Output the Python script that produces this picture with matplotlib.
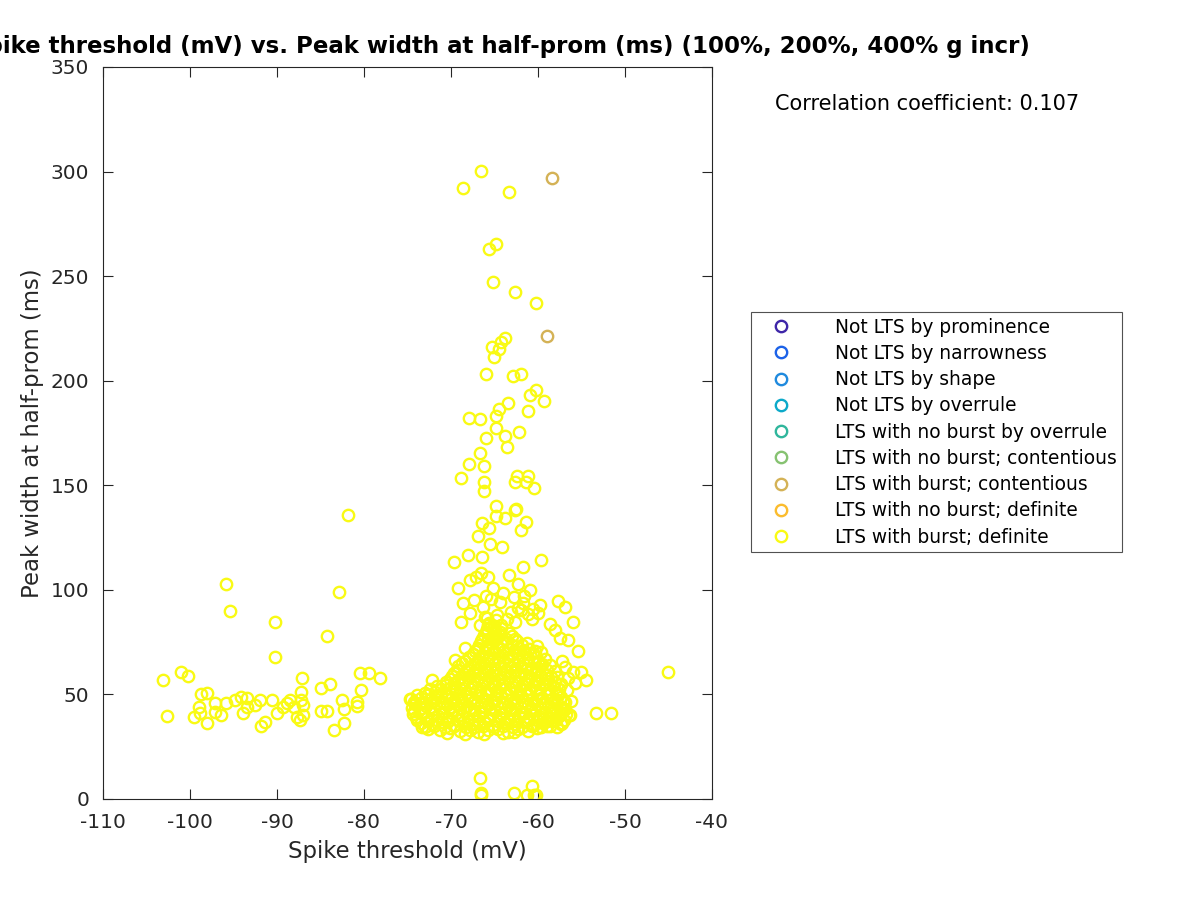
import matplotlib
matplotlib.use("Agg")
import matplotlib.pyplot as plt
from matplotlib.lines import Line2D

plt.rcParams['font.family'] = ['DejaVu Sans']
plt.rcParams['axes.unicode_minus'] = False

# classes in legend order, with parula-like colours
class_labels = ['Not LTS by prominence', 'Not LTS by narrowness', 'Not LTS by shape',
                'Not LTS by overrule', 'LTS with no burst by overrule',
                'LTS with no burst; contentious', 'LTS with burst; contentious',
                'LTS with no burst; definite', 'LTS with burst; definite']
class_colors = ['#3e26a8', '#1c62e8', '#1f8ade', '#0ca9c9', '#2fb69c',
                '#86c271', '#d4b256', '#fbbc2e', '#f9fa14']

corr_coef = 0.107

# LTS with burst; contentious
x_cont = [-58.4, -59.0]
y_cont = [297.0, 221.4]

# LTS with burst; definite -- tall scattered part above the main cluster
x_high = [-66.5, -68.6, -63.3, -64.8, -65.6, -65.2, -62.6, -60.2, -63.8, -64.3,
          -65.3, -64.5, -65.0, -66.0, -62.9, -61.9, -60.2, -60.9, -59.3, -63.5,
          -64.5, -64.8, -61.2, -67.9, -66.7, -64.8, -63.8, -62.2, -66.0, -63.6,
          -66.7, -67.9, -66.2, -68.9, -66.2, -66.2, -62.4, -61.2, -62.6, -61.4,
          -60.5, -64.8, -62.5, -64.8, -63.8, -62.6, -66.4, -65.6, -61.4, -61.9,
          -66.9, -65.5, -64.1, -69.6, -68.1, -66.4, -61.7, -59.7]
y_high = [300.5, 292.0, 290.0, 265.3, 263.0, 247.2, 242.3, 237.3, 220.6, 218.7,
          216.0, 215.2, 211.2, 203.4, 202.4, 203.2, 195.6, 193.4, 190.4, 189.5,
          186.6, 183.2, 185.6, 182.4, 181.5, 177.4, 173.7, 175.7, 172.4, 168.5,
          165.6, 160.4, 159.4, 153.7, 151.7, 147.3, 154.5, 154.5, 151.4, 151.4,
          148.5, 139.9, 138.9, 135.4, 134.4, 138.2, 131.8, 129.7, 132.5, 128.6,
          125.8, 121.7, 120.6, 113.5, 116.5, 115.8, 110.7, 114.5]

# loose points between 55 and 110 ms
x_mid = [-69.2, -67.8, -67.1, -66.5, -65.7, -65.2, -63.3, -62.3, -60.9, -68.6,
         -66.3, -64.4, -61.7, -59.8, -57.7, -56.9, -68.9, -66.7, -62.6, -60.7,
         -58.6, -58.1, -56.0, -57.5, -56.6, -55.4, -68.4, -69.5, -72.2, -54.5,
         -55.0, -56.0, -56.9, -66.0, -65.4, -64.0, -62.8, -61.9, -61.2, -62.3,
         -63.1, -60.6, -61.6, -67.4, -67.8, -64.7, -63.6, -65.9, -60.0]
y_mid = [100.7, 104.7, 106.3, 107.9, 106.3, 100.7, 107.1, 102.8, 99.9, 93.6,
         91.9, 94.3, 93.6, 92.8, 94.8, 91.6, 84.7, 83.1, 84.7, 86.3,
         83.9, 80.8, 84.7, 77.2, 76.0, 70.9, 72.1, 66.4, 57.1, 56.9,
         60.9, 60.9, 63.3, 97.0, 95.5, 98.5, 96.5, 90.5, 88.5, 91.5,
         89.5, 91.0, 97.2, 95.0, 89.0, 88.0, 86.0, 86.5, 88.8]

# dense main cluster
x_core = [-72.6, -71.3, -70.1, -69.0, -67.8, -66.9, -65.7, -64.6, -63.5, -62.3,
          -61.2, -60.1, -59.0, -70.5, -68.4, -66.2, -64.0, -62.8, -73.3,
          -73.5, -72.1, -71.0, -69.7, -68.6, -67.3, -66.1, -65.2, -63.9, -62.7,
          -61.6, -60.5, -59.4, -58.3, -57.4,
          -74.0, -72.8, -71.5, -70.4, -69.2, -68.0, -66.8, -65.6, -64.4, -63.3,
          -62.2, -61.0, -59.9, -58.8, -57.6, -56.8,
          -74.3, -73.2, -72.0, -70.9, -69.8, -68.5, -67.4, -66.3, -65.0, -63.8,
          -62.6, -61.5, -60.3, -59.2, -58.0, -57.1,
          -74.1, -72.9, -71.7, -70.5, -69.4, -68.2, -67.0, -65.8, -64.7, -63.5,
          -62.4, -61.2, -60.1, -58.9, -57.8, -56.9,
          -74.6, -73.4, -72.3, -71.2, -70.0, -68.8, -67.7, -66.5, -65.3, -64.2,
          -63.0, -61.9, -60.7, -59.6, -58.4, -57.3,
          -73.0, -71.8, -70.6, -69.5, -68.3, -67.1, -66.0, -64.8, -63.7, -62.5,
          -61.3, -60.2, -59.0, -57.9,
          -71.6, -70.6, -69.6, -68.7, -67.6, -66.4, -65.2, -64.1, -62.9, -61.8,
          -60.6, -59.4, -58.3, -57.4,
          -70.1, -69.2, -68.1, -67.0, -65.8, -64.6, -63.5, -62.3, -61.1, -60.0,
          -58.8, -57.8,
          -69.6, -68.5, -67.4, -66.2, -65.1, -63.9, -62.8, -61.6, -60.4, -59.2,
          -58.1,
          -69.2, -67.9, -66.6, -65.5, -64.3, -63.1, -62.0, -60.8, -59.6, -58.6,
          -68.4, -66.9, -65.8, -64.6, -63.4, -62.3, -61.1, -60.0, -59.2,
          -67.5, -66.4, -65.3, -64.1, -62.9, -61.8, -60.6, -59.7,
          -66.9, -65.7, -64.6, -63.4, -62.2, -61.0, -60.1,
          -66.6, -65.4, -64.9, -63.6, -62.4, -61.3,
          -66.2, -65.3, -64.5, -63.0,
          -65.9, -64.9, -64.2,
          -65.6, -64.8, -66.1,
          -74.7, -74.1, -56.5, -55.8, -56.7, -56.2, -56.9, -56.4, -57.3, -57.2]
y_core = [33.5, 32.8, 33.9, 32.4, 33.2, 31.8, 32.9, 33.6, 32.2, 33.4,
          32.7, 34.1, 35.0, 31.6, 31.2, 30.9, 31.4, 31.9, 34.5,
          36.4, 35.8, 36.9, 35.5, 36.6, 35.9, 36.8, 35.4, 36.2, 35.7,
          36.9, 35.6, 36.5, 37.1, 36.4,
          39.4, 38.7, 39.8, 38.5, 39.6, 38.9, 39.9, 38.6, 39.3, 38.4,
          39.7, 38.8, 39.5, 38.6, 39.9, 40.5,
          42.2, 41.6, 42.8, 41.4, 42.5, 41.9, 42.7, 41.5, 42.4, 41.7,
          42.9, 41.3, 42.6, 41.8, 42.3, 43.2,
          45.3, 44.6, 45.8, 44.9, 45.5, 44.7, 45.9, 44.8, 45.6, 44.5,
          45.7, 44.9, 45.4, 44.6, 45.8, 46.4,
          47.8, 48.4, 47.6, 48.7, 47.9, 48.5, 47.7, 48.8, 47.5, 48.6,
          47.8, 48.9, 47.6, 48.3, 47.9, 48.8,
          50.6, 51.4, 50.8, 51.7, 50.5, 51.6, 50.9, 51.8, 50.7, 51.5,
          50.6, 51.9, 50.8, 51.4,
          53.8, 54.6, 53.7, 54.9, 53.6, 54.7, 53.9, 54.8, 53.5, 54.6,
          53.8, 54.9, 54.2, 55.1,
          57.3, 56.7, 57.8, 56.9, 57.6, 56.8, 57.9, 56.6, 57.5, 56.9,
          57.7, 58.2,
          60.4, 59.7, 60.8, 59.9, 60.6, 59.8, 60.9, 59.6, 60.5, 59.9,
          61.0,
          63.6, 62.8, 63.9, 62.7, 63.5, 62.9, 63.8, 62.6, 63.4, 64.0,
          66.2, 65.7, 66.8, 65.6, 66.5, 65.8, 66.7, 65.9, 67.0,
          69.4, 68.6, 69.8, 68.7, 69.5, 68.9, 69.6, 70.3,
          72.3, 71.6, 72.7, 71.5, 72.4, 71.8, 73.0,
          75.4, 74.6, 75.8, 74.9, 75.5, 74.8,
          78.3, 77.6, 78.7, 77.9,
          81.2, 80.6, 81.7,
          84.3, 85.5, 86.8,
          47.8, 46.0, 58.0, 55.5, 52.0, 47.0, 43.0, 40.2, 36.0, 66.0]

# more of the main cluster, lying between the points above
x_fill = [-73.0, -71.9, -70.7, -69.6, -68.3, -67.3, -66.3, -65.1, -64.0, -62.9,
          -61.8, -60.7, -59.6, -58.6, -57.8,
          -73.9, -72.7, -71.6, -70.3, -69.1, -68.0, -66.9, -65.8, -64.6, -63.5,
          -62.4, -61.3, -60.1, -59.0, -57.9, -57.0,
          -74.4, -73.3, -72.2, -71.0, -69.9, -68.7, -67.5, -66.4, -65.3, -64.1,
          -62.9, -61.8, -60.6, -59.5, -58.4, -57.3,
          -74.5, -73.5, -72.4, -71.3, -70.1, -69.0, -67.8, -66.7, -65.5, -64.3,
          -63.2, -62.0, -60.8, -59.7, -58.5, -57.5,
          -74.3, -73.2, -72.0, -70.9, -69.7, -68.6, -67.4, -66.2, -65.1, -64.0,
          -62.8, -61.6, -60.5, -59.3, -58.2, -57.1,
          -73.9, -72.8, -71.6, -70.5, -69.2, -68.1, -66.9, -65.8, -64.7, -63.5,
          -62.3, -61.2, -60.0, -58.9, -57.7,
          -72.4, -71.2, -70.1, -69.0, -67.8, -66.7, -65.5, -64.4, -63.2, -62.1,
          -60.9, -59.8, -58.7, -57.6,
          -70.6, -69.6, -68.5, -67.3, -66.1, -65.0, -63.8, -62.7, -61.5, -60.4,
          -59.2, -58.1,
          -69.9, -68.9, -67.8, -66.7, -65.5, -64.3, -63.2, -62.0, -60.9, -59.7,
          -58.5,
          -69.3, -68.1, -67.0, -65.9, -64.8, -63.6, -62.5, -61.3, -60.2, -59.0,
          -68.7, -67.4, -66.3, -65.1, -64.0, -62.8, -61.7, -60.5, -59.5,
          -67.9, -66.8, -65.6, -64.6, -63.5, -62.3, -61.2, -60.2,
          -67.2, -66.1, -65.0, -63.9, -62.7, -61.5, -60.4,
          -66.8, -65.9, -64.2, -63.0, -61.8,
          -66.4, -65.7, -64.7, -63.7, -62.6,
          -66.0, -65.1, -64.4, -63.3,
          -65.8, -65.0, -64.3]
y_fill = [34.6, 34.9, 34.4, 34.8, 34.5, 34.2, 34.7, 34.5, 34.9, 34.3,
          34.6, 34.8, 34.4, 34.7, 34.5,
          37.7, 37.4, 37.9, 37.5, 37.8, 37.3, 37.6, 37.9, 37.4, 37.7,
          37.5, 37.8, 37.6, 37.3, 37.9, 37.7,
          40.8, 40.5, 41.0, 40.6, 40.9, 40.4, 40.7, 41.0, 40.5, 40.8,
          40.6, 40.9, 40.4, 40.7, 41.0, 40.8,
          43.7, 43.4, 43.9, 43.5, 43.8, 43.3, 43.6, 43.9, 43.4, 43.7,
          43.5, 43.8, 43.6, 43.3, 43.9, 43.7,
          46.6, 46.3, 46.8, 46.4, 46.7, 46.2, 46.5, 46.9, 46.3, 46.6,
          46.4, 46.8, 46.5, 46.2, 46.7, 46.6,
          49.8, 49.5, 49.9, 49.6, 49.8, 49.4, 49.7, 50.0, 49.5, 49.8,
          49.6, 49.9, 49.5, 49.7, 49.8,
          52.7, 52.4, 52.9, 52.5, 52.8, 52.3, 52.6, 52.9, 52.4, 52.7,
          52.5, 52.8, 52.6, 52.7,
          55.8, 55.5, 56.0, 55.6, 55.9, 55.4, 55.7, 56.0, 55.5, 55.8,
          55.6, 55.9,
          58.7, 58.4, 58.9, 58.5, 58.8, 58.3, 58.6, 58.9, 58.4, 58.7,
          58.5,
          61.8, 61.5, 62.0, 61.6, 61.9, 61.4, 61.7, 62.0, 61.5, 61.8,
          64.9, 64.6, 65.1, 64.7, 65.0, 64.5, 64.8, 65.1, 64.6,
          67.7, 67.4, 67.9, 67.5, 67.8, 67.3, 67.6, 67.9,
          70.8, 70.5, 71.0, 70.6, 70.9, 70.4, 70.7,
          73.7, 73.4, 73.9, 73.5, 73.8,
          76.6, 76.3, 76.8, 76.4, 76.7,
          79.8, 79.5, 80.0, 79.6,
          83.0, 82.7, 83.2]

# hyperpolarised group on the left
x_left = [-95.9, -95.4, -90.2, -90.2, -82.9, -84.2, -81.8, -103.1, -101.0, -100.2,
          -102.6, -87.1, -84.9, -83.9, -80.5, -79.4, -78.2, -80.3, -82.5, -82.3,
          -80.8, -80.8, -83.4, -82.3, -84.9, -84.2, -87.2, -87.2, -87.0, -87.0,
          -87.4, -87.7, -88.1, -88.5, -88.9, -89.3, -90.0, -90.6, -91.4, -91.8,
          -92.0, -92.5, -93.5, -93.9, -94.1, -93.5, -94.8, -95.9, -96.4, -97.1,
          -97.1, -98.1, -98.7, -99.0, -98.9, -99.5, -98.1]
y_left = [102.8, 89.9, 84.8, 67.7, 98.8, 78.0, 135.8, 57.1, 60.9, 58.8,
          39.9, 58.0, 53.2, 54.8, 60.1, 60.1, 58.0, 52.1, 47.3, 43.0,
          46.5, 44.5, 33.0, 36.1, 42.1, 42.1, 51.3, 47.3, 45.0, 40.2,
          37.8, 39.3, 44.1, 47.3, 45.7, 44.1, 41.0, 47.3, 36.9, 35.0,
          47.3, 45.0, 44.1, 41.0, 49.0, 48.1, 47.3, 46.0, 40.2, 45.7,
          41.7, 50.8, 50.0, 44.1, 41.0, 39.3, 36.1]

# right outliers and near-zero widths
x_low = [-53.3, -51.6, -45.1, -56.3, -57.2, -66.7, -66.5, -66.5, -62.8, -61.3,
         -60.7, -60.5, -60.2]
y_low = [41.0, 41.0, 60.9, 40.2, 36.1, 9.9, 1.9, 3.0, 3.0, 1.9,
         6.2, 1.9, 1.9]

x_def = x_high + x_mid + x_core + x_fill + x_left + x_low
y_def = y_high + y_mid + y_core + y_fill + y_left + y_low

fig = plt.figure(figsize=(12, 9), dpi=100)
ax = fig.add_axes([103 / 1200, 1 - 799 / 900, 609 / 1200, 732 / 900])

ms = 8.2
mew = 1.7
ax.plot(x_cont, y_cont, 'o', mfc='none', mec=class_colors[6], ms=ms, mew=mew)
ax.plot(x_def, y_def, 'o', mfc='none', mec=class_colors[8], ms=ms, mew=mew)

ax.set_xlim(-110, -40)
ax.set_ylim(0, 350)
ax.set_xticks(range(-110, -39, 10))
ax.set_yticks(range(0, 351, 50))
ax.tick_params(direction='in', top=True, right=True, length=7, width=0.8,
               labelsize=14.5, labelcolor='#262626', colors='#262626', pad=10)
for sp in ax.spines.values():
    sp.set_color('#262626')
    sp.set_linewidth(0.8)
ax.set_xlabel('Spike threshold (mV)', fontsize=16.4, color='#262626', labelpad=6)
ax.set_ylabel('Peak width at half-prom (ms)', fontsize=16.4, color='#262626', labelpad=5)

fig.text(1030 / 1200, 1 - 47 / 900,
         'Spike threshold (mV) vs. Peak width at half-prom (ms) (100%, 200%, 400% g incr)',
         ha='right', va='center', fontsize=16.5, fontweight='bold')

fig.text(775 / 1200, 1 - 104 / 900, 'Correlation coefficient: %.3f' % corr_coef,
         ha='left', va='center', fontsize=15)

handles = [Line2D([], [], ls='none', marker='o', mfc='none', mec=c, ms=ms, mew=mew)
           for c in class_colors]
leg = fig.legend(handles, class_labels, loc='upper left',
                 bbox_to_anchor=(751 / 1200, 1 - 312 / 900), bbox_transform=fig.transFigure,
                 borderaxespad=0, fancybox=False, fontsize=13.4, labelspacing=0.39,
                 handletextpad=1.6, borderpad=0.3, handlelength=2.6)
leg.get_frame().set_edgecolor('#262626')
leg.get_frame().set_linewidth(0.8)

fig.savefig('out.png', dpi=100)
